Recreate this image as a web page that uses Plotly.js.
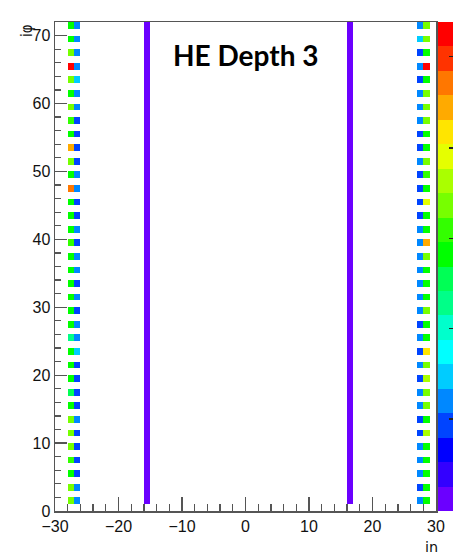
<!DOCTYPE html>
<html>
<head>
<meta charset="utf-8">
<script src="https://cdn.plot.ly/plotly-3.0.1.min.js"></script>
<style>html,body{margin:0;padding:0;background:#fff;}#plot{width:453px;height:552px;}</style>
</head>
<body>
<div id="plot"></div>
<script>
// ---- data: colour-level (0..19) of each filled cell, per ieta column ----
// iphi values of the filled cells at |ieta| = 27, 28 (ascending)
const iphiOdd = [1,3,5,7,9,11,13,15,17,19,21,23,25,27,29,31,33,35,37,39,41,43,45,47,49,51,53,55,57,59,61,63,65,67,69,71];
// iphi values of the filled cells at |ieta| = 16
const iphiAll = [1,2,3,4,5,6,7,8,9,10,11,12,13,14,15,16,17,18,19,20,21,22,23,24,25,26,27,28,29,30,31,32,33,34,35,36,
                 37,38,39,40,41,42,43,44,45,46,47,48,49,50,51,52,53,54,55,56,57,58,59,60,61,62,63,64,65,66,67,68,69,70,71];
const levelEtaM28 = [12,12,10,11,12,12,12,10,9,10,10,10,8,10,10,10,10,10,10,11,10,10,10,17,10,12,16,10,11,12,10,12,19,12,10,10];
const levelEtaM27 = [4,4,3,3,3,3,4,3,3,3,3,5,4,4,3,4,3,4,4,3,4,3,3,4,4,3,3,3,3,4,4,5,4,4,4,4];
const levelEtaP27 = [4,3,4,4,4,3,3,4,4,3,4,3,4,3,4,4,4,4,4,4,4,3,3,3,3,4,3,3,4,4,4,3,4,3,5,4];
const levelEtaP28 = [10,10,10,10,10,13,10,12,12,13,12,15,10,10,12,10,10,10,12,16,10,10,14,10,11,12,10,10,12,12,12,10,19,10,12,12];
const levelEtaM16 = [0,0,0,0,0,0,0,0,0,0,0,0,0,0,0,0,0,0,0,0,0,0,0,0,0,0,0,0,0,0,0,0,0,0,0,0,
                     0,0,0,0,0,0,0,0,0,0,0,0,0,0,0,0,0,0,0,0,0,0,0,0,0,0,0,0,0,0,0,0,0,0,0];
const levelEtaP16 = [0,0,0,0,0,0,0,0,0,0,0,0,0,0,0,0,0,0,0,0,0,0,0,0,0,0,0,0,0,0,0,0,0,0,0,0,
                     0,0,0,0,0,0,0,0,0,0,0,0,0,0,0,0,0,0,0,0,0,0,0,0,0,0,0,0,0,0,0,0,0,0,0];
// palette (ROOT-like, 20 contour levels, violet -> red)
const paletteColors = ['#6b00ff','#3300ff','#0000ff','#0044ff','#0088ff','#00ccff','#00ffff','#00ffcc','#00ff88','#00ff55',
                       '#00ff00','#33ff00','#77ff00','#aaff00','#e5ff00','#ffe500','#ffaa00','#ff7700','#ff3300','#ff0000'];
const titleText = 'HE Depth 3';
const xTitle = 'iη';
const yTitle = 'iφ';

// ---- histogram binning (1-unit bins) ----
const etaLo = -30, etaHi = 30, phiLo = 0, phiHi = 72;
const xEdges = [], yEdges = [];
for (let e = etaLo; e <= etaHi; e++) xEdges.push(e);
for (let p = phiLo; p <= phiHi; p++) yEdges.push(p);
const z = [];
for (let p = phiLo; p < phiHi; p++) { const row = []; for (let e = etaLo; e < etaHi; e++) row.push(null); z.push(row); }
function fillColumn(ieta, iphis, levels) {
  iphis.forEach((p, i) => { z[p - phiLo][ieta - etaLo] = levels[i] + 0.5; });
}
fillColumn(-28, iphiOdd, levelEtaM28);
fillColumn(-27, iphiOdd, levelEtaM27);
fillColumn(27, iphiOdd, levelEtaP27);
fillColumn(28, iphiOdd, levelEtaP28);
fillColumn(-16, iphiAll, levelEtaM16);
fillColumn(16, iphiAll, levelEtaP16);

const nLev = paletteColors.length;
const colorscale = [];
paletteColors.forEach((c, i) => { colorscale.push([i / nLev, c]); colorscale.push([(i + 1) / nLev, c]); });

const trace = {
  type: 'heatmap', x: xEdges, y: yEdges, z: z,
  zmin: 0, zmax: nLev, colorscale: colorscale, zsmooth: false,
  hoverinfo: 'skip', xgap: 0, ygap: 0,
  colorbar: {
    thickness: 16, thicknessmode: 'pixels', len: 1, lenmode: 'fraction',
    x: 1.005, xanchor: 'left', y: 0.5, yanchor: 'middle', xpad: 0, ypad: 0,
    outlinewidth: 0, ticks: 'inside', ticklen: 5, tickwidth: 1.5, tickcolor: '#222',
    tickvals: [3.76, 7.46, 11.14, 14.84, 18.58], showticklabels: false
  }
};

const axisFont = {family: 'Liberation Sans Narrow, Arial Narrow, Liberation Sans, Arial, sans-serif', size: 16, color: '#111'};
const layout = {
  width: 453, height: 552,
  margin: {l: 55, r: 17, t: 22, b: 41, autoexpand: false},
  paper_bgcolor: '#fff', plot_bgcolor: '#fff',
  showlegend: false,
  xaxis: {
    range: [etaLo, etaHi], tickmode: 'linear', tick0: -30, dtick: 10,
    ticks: 'inside', ticklen: 14, tickwidth: 1.3, tickcolor: '#555',
    minor: {dtick: 2, tick0: 0, ticks: 'inside', ticklen: 7, tickwidth: 1.3, tickcolor: '#555'},
    showgrid: false, zeroline: false, showline: true, linecolor: '#555', linewidth: 1.5, mirror: true,
    tickfont: axisFont
  },
  yaxis: {
    range: [phiLo, phiHi], tickmode: 'linear', tick0: 0, dtick: 10,
    ticks: 'inside', ticklen: 12, tickwidth: 1.3, tickcolor: '#555',
    minor: {dtick: 2, tick0: 0, ticks: 'inside', ticklen: 6, tickwidth: 1.3, tickcolor: '#555'},
    showgrid: false, zeroline: false, showline: true, linecolor: '#555', linewidth: 1.5, mirror: true,
    tickfont: axisFont
  },
  annotations: [
    {text: titleText, xref: 'paper', yref: 'paper', x: 0.501, y: 0.9325, xanchor: 'center', yanchor: 'middle',
     showarrow: false, font: {family: 'Lato, Open Sans, sans-serif', size: 28, weight: 700, color: '#000'}},
    {text: yTitle, xref: 'paper', yref: 'paper', x: -0.072, y: 0.983, xanchor: 'center', yanchor: 'middle',
     textangle: -90, showarrow: false, font: {family: 'DejaVu Sans Condensed, Liberation Sans, sans-serif', size: 15, color: '#111'}},
    {text: xTitle, xref: 'paper', yref: 'paper', x: 0.9895, y: -0.052, xanchor: 'center', yanchor: 'top',
     showarrow: false, font: {family: 'DejaVu Sans Condensed, Liberation Sans, sans-serif', size: 16, color: '#111'}}
  ]
};
Plotly.newPlot('plot', [trace], layout, {displayModeBar: false, staticPlot: true});
</script>
</body>
</html>
